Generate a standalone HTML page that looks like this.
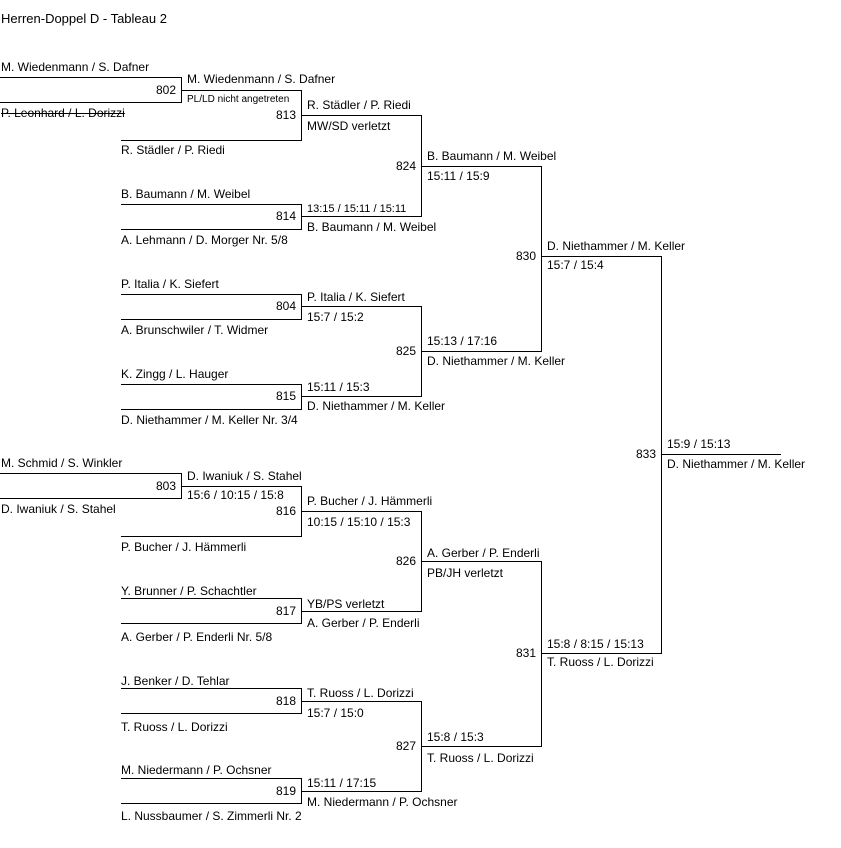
<!DOCTYPE html>
<html><head><meta charset="utf-8"><style>
body{margin:0;width:841px;height:848px;background:#fff;position:relative;overflow:hidden}
.h{position:absolute;height:1px;background:#000}
.v{position:absolute;width:1px;background:#000}
.t{position:absolute;font:12px "Liberation Sans",Arial,sans-serif;line-height:14px;white-space:nowrap;color:#000}
.n{position:absolute;font:12px "Liberation Sans",Arial,sans-serif;line-height:14px;white-space:nowrap;text-align:right;width:40px}
</style></head><body>
<div class="t" style="left:1px;top:12px;font-size:13px">Herren-Doppel D - Tableau 2</div>

<!-- lines -->
<div class="h" style="left:0;width:181px;top:77px"></div>
<div class="h" style="left:0;width:181px;top:102px"></div>
<div class="h" style="left:181px;width:120px;top:90px"></div>
<div class="h" style="left:121px;width:180px;top:140px"></div>
<div class="h" style="left:121px;width:180px;top:204px"></div>
<div class="h" style="left:121px;width:180px;top:229px"></div>
<div class="h" style="left:301px;width:120px;top:115px"></div>
<div class="h" style="left:301px;width:120px;top:216px"></div>
<div class="h" style="left:421px;width:120px;top:166px"></div>
<div class="h" style="left:121px;width:180px;top:294px"></div>
<div class="h" style="left:121px;width:180px;top:319px"></div>
<div class="h" style="left:121px;width:180px;top:384px"></div>
<div class="h" style="left:121px;width:180px;top:409px"></div>
<div class="h" style="left:301px;width:120px;top:306px"></div>
<div class="h" style="left:301px;width:120px;top:396px"></div>
<div class="h" style="left:421px;width:120px;top:351px"></div>
<div class="h" style="left:541px;width:120px;top:256px"></div>
<div class="h" style="left:0;width:181px;top:473px"></div>
<div class="h" style="left:0;width:181px;top:498px"></div>
<div class="h" style="left:181px;width:120px;top:486px"></div>
<div class="h" style="left:121px;width:180px;top:536px"></div>
<div class="h" style="left:121px;width:180px;top:598px"></div>
<div class="h" style="left:121px;width:180px;top:623px"></div>
<div class="h" style="left:301px;width:120px;top:511px"></div>
<div class="h" style="left:301px;width:120px;top:611px"></div>
<div class="h" style="left:421px;width:120px;top:561px"></div>
<div class="h" style="left:121px;width:180px;top:688px"></div>
<div class="h" style="left:121px;width:180px;top:713px"></div>
<div class="h" style="left:121px;width:180px;top:778px"></div>
<div class="h" style="left:121px;width:180px;top:803px"></div>
<div class="h" style="left:301px;width:120px;top:701px"></div>
<div class="h" style="left:301px;width:120px;top:791px"></div>
<div class="h" style="left:421px;width:120px;top:746px"></div>
<div class="h" style="left:541px;width:120px;top:653px"></div>
<div class="h" style="left:661px;width:120px;top:454px"></div>

<div class="v" style="left:181px;top:77px;height:26px"></div>
<div class="v" style="left:301px;top:90px;height:51px"></div>
<div class="v" style="left:301px;top:204px;height:26px"></div>
<div class="v" style="left:421px;top:115px;height:102px"></div>
<div class="v" style="left:541px;top:166px;height:186px"></div>
<div class="v" style="left:301px;top:294px;height:26px"></div>
<div class="v" style="left:301px;top:384px;height:26px"></div>
<div class="v" style="left:421px;top:306px;height:91px"></div>
<div class="v" style="left:661px;top:256px;height:398px"></div>
<div class="v" style="left:181px;top:473px;height:26px"></div>
<div class="v" style="left:301px;top:486px;height:51px"></div>
<div class="v" style="left:301px;top:598px;height:26px"></div>
<div class="v" style="left:421px;top:511px;height:101px"></div>
<div class="v" style="left:541px;top:561px;height:186px"></div>
<div class="v" style="left:301px;top:688px;height:26px"></div>
<div class="v" style="left:301px;top:778px;height:26px"></div>
<div class="v" style="left:421px;top:701px;height:91px"></div>

<!-- match numbers -->
<div class="n" style="left:136px;top:83px">802</div>
<div class="n" style="left:256px;top:108px">813</div>
<div class="n" style="left:256px;top:209px">814</div>
<div class="n" style="left:376px;top:159px">824</div>
<div class="n" style="left:256px;top:299px">804</div>
<div class="n" style="left:256px;top:389px">815</div>
<div class="n" style="left:376px;top:344px">825</div>
<div class="n" style="left:496px;top:249px">830</div>
<div class="n" style="left:616px;top:447px">833</div>
<div class="n" style="left:136px;top:479px">803</div>
<div class="n" style="left:256px;top:504px">816</div>
<div class="n" style="left:256px;top:604px">817</div>
<div class="n" style="left:376px;top:554px">826</div>
<div class="n" style="left:256px;top:694px">818</div>
<div class="n" style="left:256px;top:784px">819</div>
<div class="n" style="left:376px;top:739px">827</div>
<div class="n" style="left:496px;top:646px">831</div>

<!-- round 0 -->
<div class="t" style="left:1px;top:60px">M. Wiedenmann / S. Dafner</div>
<div class="t" style="left:1px;top:106px;text-decoration:line-through">P. Leonhard / L. Dorizzi</div>
<div class="t" style="left:1px;top:456px">M. Schmid / S. Winkler</div>
<div class="t" style="left:1px;top:502px">D. Iwaniuk / S. Stahel</div>

<!-- round 1 -->
<div class="t" style="left:187px;top:72px">M. Wiedenmann / S. Dafner</div>
<div class="t" style="left:187px;top:93px;font-size:10px">PL/LD nicht angetreten</div>
<div class="t" style="left:121px;top:143px">R. Städler / P. Riedi</div>
<div class="t" style="left:121px;top:187px">B. Baumann / M. Weibel</div>
<div class="t" style="left:121px;top:233px">A. Lehmann / D. Morger Nr. 5/8</div>
<div class="t" style="left:121px;top:277px">P. Italia / K. Siefert</div>
<div class="t" style="left:121px;top:323px">A. Brunschwiler / T. Widmer</div>
<div class="t" style="left:121px;top:367px">K. Zingg / L. Hauger</div>
<div class="t" style="left:121px;top:413px">D. Niethammer / M. Keller Nr. 3/4</div>
<div class="t" style="left:187px;top:469px">D. Iwaniuk / S. Stahel</div>
<div class="t" style="left:187px;top:488px">15:6 / 10:15 / 15:8</div>
<div class="t" style="left:121px;top:540px">P. Bucher / J. Hämmerli</div>
<div class="t" style="left:121px;top:584px">Y. Brunner / P. Schachtler</div>
<div class="t" style="left:121px;top:630px">A. Gerber / P. Enderli Nr. 5/8</div>
<div class="t" style="left:121px;top:674px">J. Benker / D. Tehlar</div>
<div class="t" style="left:121px;top:720px">T. Ruoss / L. Dorizzi</div>
<div class="t" style="left:121px;top:763px">M. Niedermann / P. Ochsner</div>
<div class="t" style="left:121px;top:809px">L. Nussbaumer / S. Zimmerli Nr. 2</div>

<!-- round 2 -->
<div class="t" style="left:307px;top:98px">R. Städler / P. Riedi</div>
<div class="t" style="left:307px;top:119px">MW/SD verletzt</div>
<div class="t" style="left:307px;top:202px;font-size:11px">13:15 / 15:11 / 15:11</div>
<div class="t" style="left:307px;top:220px">B. Baumann / M. Weibel</div>
<div class="t" style="left:307px;top:290px">P. Italia / K. Siefert</div>
<div class="t" style="left:307px;top:310px">15:7 / 15:2</div>
<div class="t" style="left:307px;top:380px">15:11 / 15:3</div>
<div class="t" style="left:307px;top:399px">D. Niethammer / M. Keller</div>
<div class="t" style="left:307px;top:494px">P. Bucher / J. Hämmerli</div>
<div class="t" style="left:307px;top:515px">10:15 / 15:10 / 15:3</div>
<div class="t" style="left:307px;top:597px">YB/PS verletzt</div>
<div class="t" style="left:307px;top:616px">A. Gerber / P. Enderli</div>
<div class="t" style="left:307px;top:686px">T. Ruoss / L. Dorizzi</div>
<div class="t" style="left:307px;top:706px">15:7 / 15:0</div>
<div class="t" style="left:307px;top:776px">15:11 / 17:15</div>
<div class="t" style="left:307px;top:795px">M. Niedermann / P. Ochsner</div>

<!-- round 3 -->
<div class="t" style="left:427px;top:149px">B. Baumann / M. Weibel</div>
<div class="t" style="left:427px;top:169px">15:11 / 15:9</div>
<div class="t" style="left:427px;top:334px">15:13 / 17:16</div>
<div class="t" style="left:427px;top:354px">D. Niethammer / M. Keller</div>
<div class="t" style="left:427px;top:546px">A. Gerber / P. Enderli</div>
<div class="t" style="left:427px;top:566px">PB/JH verletzt</div>
<div class="t" style="left:427px;top:730px">15:8 / 15:3</div>
<div class="t" style="left:427px;top:751px">T. Ruoss / L. Dorizzi</div>

<!-- round 4 -->
<div class="t" style="left:547px;top:239px">D. Niethammer / M. Keller</div>
<div class="t" style="left:547px;top:258px">15:7 / 15:4</div>
<div class="t" style="left:547px;top:637px">15:8 / 8:15 / 15:13</div>
<div class="t" style="left:547px;top:655px">T. Ruoss / L. Dorizzi</div>

<!-- final -->
<div class="t" style="left:667px;top:437px">15:9 / 15:13</div>
<div class="t" style="left:667px;top:457px">D. Niethammer / M. Keller</div>
</body></html>
